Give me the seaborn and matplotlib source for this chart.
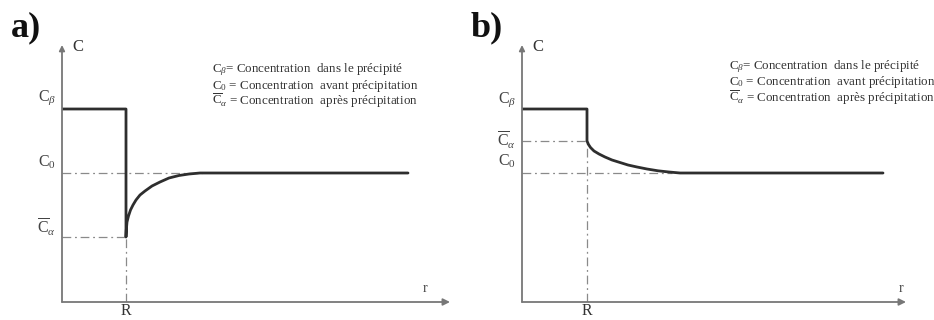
import numpy as np
import pandas as pd
import matplotlib
matplotlib.use("Agg")
import matplotlib.pyplot as plt
import seaborn as sns

# profile values (arbitrary units, r from the C axis, C from the r axis)
R_a = 64
R_b = 65
C_beta = 193
C_0 = 129
C_alpha_a = 65
C_alpha_b = 161

# a) concentration drops below C0 at R, then recovers
r_a = [0, 64, 64, 64.3, 65, 66.5, 68.5, 71, 74, 78, 83, 90, 98, 107, 117, 127, 138, 148, 346]
c_a = [193, 193, 65, 72, 80, 86, 92, 97, 102, 107, 111, 116, 120, 124, 126.5, 128, 129, 129, 129]
r_meet_a = 140

# b) concentration above C0 at R, then decreases
r_b = [0, 65, 65, 66.5, 68.5, 72, 77, 83, 90, 98, 106, 115, 125, 136, 147, 158, 361]
c_b = [193, 193, 161, 157.5, 154.5, 151, 148, 145, 142, 139.5, 137, 135, 133, 131.2, 130, 129, 129]
r_meet_b = 150

legend_lines = [
    r"$\mathrm{C}_\beta$= Concentration  dans le précipité",
    r"$\mathrm{C}_0$ = Concentration  avant précipitation",
    r"$\overline{\mathrm{C}}_\alpha$ = Concentration  après précipitation",
]

sns.set_theme(style="white")
plt.rcParams["font.family"] = ["Liberation Serif", "DejaVu Serif"]
plt.rcParams["mathtext.fontset"] = "custom"
plt.rcParams["mathtext.rm"] = "Liberation Serif"
plt.rcParams["mathtext.it"] = "Liberation Serif:italic"
plt.rcParams["mathtext.bf"] = "Liberation Serif:bold"

W, H = 934, 320
fig = plt.figure(figsize=(W / 100, H / 100), dpi=100)

line_col = "#2e2e2e"
axis_col = "#777777"
dash_col = "#8a8a8a"
dash = (0, (7, 3, 1.5, 3))


def panel(left, width, r, c, R, c_alpha, r_meet, xmax, letter, r_lab_x, lab_pos, leg_x, leg_y):
    ax = fig.add_axes([left / W, 18 / H, width / W, 257 / H])
    ax.set_xlim(0, xmax)
    ax.set_ylim(0, 257)
    ax.axis("off")

    # axes with arrow heads
    ax.annotate("", xy=(xmax, 0), xytext=(0, 0),
                arrowprops=dict(arrowstyle="-|>", color=axis_col, lw=1.3,
                                mutation_scale=10, shrinkA=0, shrinkB=0),
                annotation_clip=False)
    ax.annotate("", xy=(0, 257), xytext=(0, 0),
                arrowprops=dict(arrowstyle="-|>", color=axis_col, lw=1.3,
                                mutation_scale=8, shrinkA=0, shrinkB=0),
                annotation_clip=False)

    # guide lines
    ax.plot([0, r_meet], [C_0, C_0], color=dash_col, lw=0.9, ls=dash)
    ax.plot([0, R], [c_alpha, c_alpha], color=dash_col, lw=0.9, ls=dash)
    ax.plot([R, R], [0, c_alpha], color=dash_col, lw=0.9, ls=dash)

    df = pd.DataFrame({"r": r, "C": c})
    sns.lineplot(data=df, x="r", y="C", sort=False, estimator=None,
                 color=line_col, lw=2.0, ax=ax)

    # labels
    ax.text(10, 255, "C", fontsize=12, ha="left", va="center", color="#333333")
    ax.text(r_lab_x, 14, "r", fontsize=10, ha="center", va="center", color="#444444")
    ax.text(R, -9, "R", fontsize=11.5, ha="center", va="center", color="#333333")
    for txt, y in lab_pos:
        ax.text(-6, y, txt, fontsize=11.5, ha="right", va="center", color="#444444")

    for i, t in enumerate(legend_lines):
        ax.text(leg_x, leg_y - 15.5 * i, t, fontsize=9.4, ha="left", va="center",
                color="#333333", clip_on=False)

    fig.text((left - 51) / W, 1 - 28 / H, letter, fontsize=26, fontweight="bold",
             ha="left", va="center", color="#111111")
    return ax


panel(62, 388, r_a, c_a, R_a, C_alpha_a, r_meet_a, 388, "a)", 363,
      [(r"$\mathrm{C}_\beta$", 204), (r"$\mathrm{C}_0$", 140),
       (r"$\overline{\mathrm{C}}_\alpha$", 75)],
      150, 232)

panel(522, 384, r_b, c_b, R_b, C_alpha_b, r_meet_b, 384, "b)", 379,
      [(r"$\mathrm{C}_\beta$", 202), (r"$\overline{\mathrm{C}}_\alpha$", 162),
       (r"$\mathrm{C}_0$", 141)],
      207, 235)

fig.savefig("out.png", dpi=100, facecolor="white")
